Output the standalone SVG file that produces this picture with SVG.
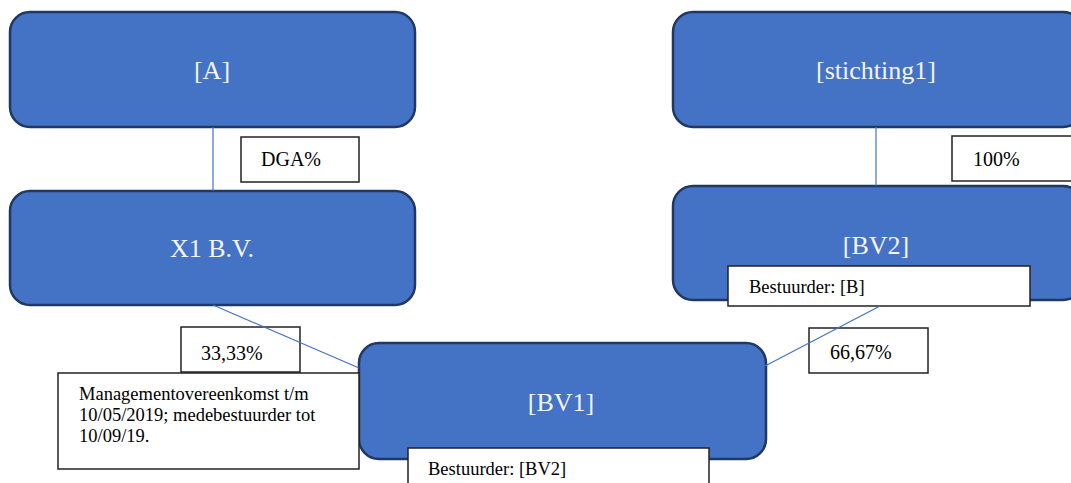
<svg xmlns="http://www.w3.org/2000/svg" width="1071" height="483" viewBox="0 0 1071 483">
<style>
.node{fill:#4472C4;stroke:#1F3864;stroke-width:2.5}
text{font-family:'Liberation Serif','Times New Roman',serif}
.nt{font-size:26px;fill:#F4F4F4;text-anchor:middle}
.lbl{fill:#FFFFFF;stroke:#222222;stroke-width:1.5}
.lt{font-size:20px;fill:#000000}
.st{font-size:18.5px;fill:#000000}
.conn{stroke:#4472C4;stroke-width:1.2;fill:none}
</style>
<rect width="1071" height="483" fill="#FFFFFF"/>
<g id="node-A">
<rect class="node" x="10" y="12" width="405" height="115" rx="20"/>
<text class="nt" x="212" y="79">[A]</text>
</g>
<g id="node-stichting1">
<rect class="node" x="673" y="12" width="410" height="115" rx="20"/>
<text class="nt" x="876" y="79">[stichting1]</text>
</g>
<g id="node-X1">
<rect class="node" x="10" y="191" width="405" height="114" rx="20"/>
<text class="nt" x="212" y="257">X1 B.V.</text>
</g>
<g id="node-BV2">
<rect class="node" x="673" y="186" width="410" height="114" rx="20"/>
<text class="nt" x="876" y="254">[BV2]</text>
</g>
<g id="node-BV1">
<rect class="node" x="359" y="343" width="407" height="116" rx="20"/>
<text class="nt" x="561" y="411">[BV1]</text>
</g>
<g id="label-DGA">
<rect class="lbl" x="241" y="137" width="118" height="45"/>
<text class="lt" x="261" y="166">DGA%</text>
</g>
<g id="label-100">
<rect class="lbl" x="952" y="136" width="125" height="45"/>
<text class="lt" x="973" y="166">100%</text>
</g>
<g id="label-bestuurder-B">
<rect class="lbl" x="728" y="266" width="302" height="40"/>
<text class="st" x="749" y="293">Bestuurder: [B]</text>
</g>
<g id="label-3333">
<rect class="lbl" x="181" y="327" width="119" height="45"/>
<text class="lt" x="201" y="360">33,33%</text>
</g>
<g id="label-6667">
<rect class="lbl" x="809" y="328" width="119" height="45"/>
<text class="lt" x="830" y="359">66,67%</text>
</g>
<g id="label-management">
<rect class="lbl" x="58" y="373" width="301" height="96"/>
<text class="st" x="79" y="400">Managementovereenkomst t/m</text>
<text class="st" x="79" y="421">10/05/2019; medebestuurder tot</text>
<text class="st" x="79" y="442">10/09/19.</text>
</g>
<g id="label-bestuurder-BV2">
<rect class="lbl" x="408" y="448" width="301" height="45"/>
<text class="st" x="428" y="475">Bestuurder: [BV2]</text>
</g>
<g id="connectors">
<line class="conn" x1="213" y1="127" x2="213" y2="191"/>
<line class="conn" x1="876" y1="127" x2="876" y2="186"/>
<line class="conn" x1="213" y1="305" x2="359" y2="368"/>
<line class="conn" x1="880" y1="306" x2="765" y2="366"/>
</g>
</svg>
